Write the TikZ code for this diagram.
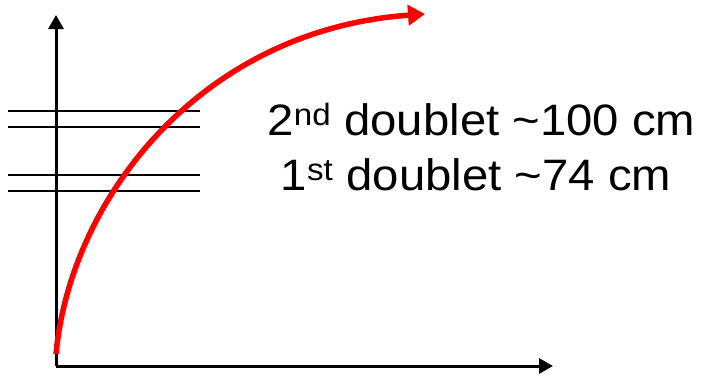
\documentclass[tikz,border=0pt]{standalone}
\usepackage{fontspec}
\setmainfont{Liberation Sans}
\newfontfamily\labelfont[FakeStretch=1.075]{Liberation Sans}
\usetikzlibrary{arrows.meta, positioning}

\begin{document}
\begin{tikzpicture}[
  x=1pt, y=-1pt,
  axis/.style={-{Triangle[length=14pt, width=15pt]}, line width=3pt},
  level/.style={line width=2pt},
  growth/.style={-{Triangle[length=17pt, width=20pt]}, red, line width=5.5pt},
  label/.style={anchor=base, inner sep=0pt, font=\labelfont\fontsize{44}{52}\selectfont}
]
\useasboundingbox (0,0) rectangle (701,375);

% Axes
\coordinate (origin) at (56,366);
\coordinate (ytop) at (56,15);
\coordinate (xend) at (553,366);
\draw[axis] (origin) -- (ytop);
\draw[axis] (origin) -- (xend);

% Niveaux des doublets
\coordinate (l1a) at (8,111);  \coordinate (r1a) at (200,111);
\coordinate (l1b) at (8,127);  \coordinate (r1b) at (200,127);
\coordinate (l2a) at (8,175);  \coordinate (r2a) at (200,175);
\coordinate (l2b) at (8,191);  \coordinate (r2b) at (200,191);
\draw[level] (l1a) -- (r1a);
\draw[level] (l1b) -- (r1b);
\draw[level] (l2a) -- (r2a);
\draw[level] (l2b) -- (r2b);

% Courbe
\coordinate (start) at (56,354);
\coordinate (tip) at (425,14);
\draw[growth] (start) .. controls (70,200) and (200,30) .. (tip);

% Textes
\node[label] (second) at (481.5,135) {2\textsuperscript{nd} doublet \char`~100 cm};
\node[label] (first) at (476,190) {1\textsuperscript{st} doublet \char`~74 cm};

\end{tikzpicture}
\end{document}
